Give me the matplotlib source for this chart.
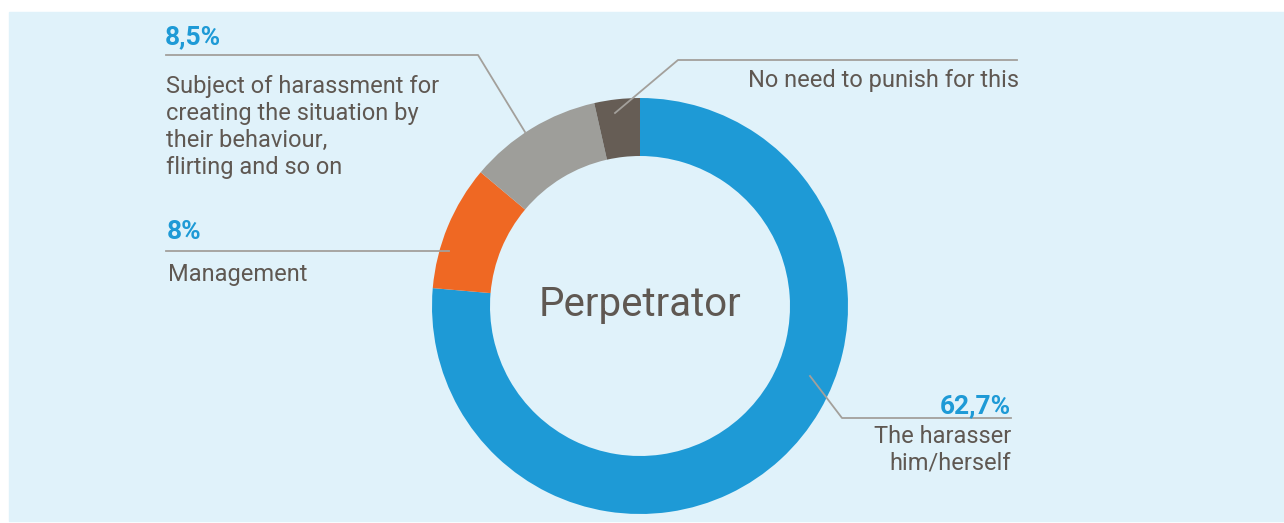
import matplotlib.pyplot as plt
from matplotlib.patches import Rectangle

plt.rcParams['font.family'] = ['Roboto', 'DejaVu Sans']

# shares of answers, clockwise from the top
labels = ["The harasser\nhim/herself", "Management",
          "Subject of harassment for\ncreating the situation by\ntheir behaviour,\nflirting and so on",
          "No need to punish for this"]
values = [62.7, 8.0, 8.5, 2.9]
pct_text = ["62,7%", "8%", "8,5%", ""]
colors = ["#1e9ad6", "#ef6823", "#9e9e9a", "#665d55"]

W, H = 1284, 523
text_col = "#5f5852"
line_col = "#a3a09b"
blue = "#1e9ad6"

fig = plt.figure(figsize=(W / 100, H / 100), dpi=100)
ax = fig.add_axes([0, 0, 1, 1])

# pixel-like coords, y measured from the top
def py(y):
    return H - y

ax.add_patch(Rectangle((9, py(521)), W - 9, 509, color="#e0f2fa", zorder=0))

cx, cy, r = 640, 306, 208
ax.pie(values, colors=colors, startangle=90, counterclock=False,
       center=(cx, py(cy)), radius=r, frame=True,
       wedgeprops=dict(width=58, linewidth=0))

ax.text(cx, py(305), "Perpetrator", ha="center", va="center",
        fontsize=29, color=text_col)

# leader lines
lw = 1.3
ax.plot([166, 478, 525], [py(55), py(55), py(132)], color=line_col, lw=lw)
ax.plot([166, 449], [py(251), py(251)], color=line_col, lw=lw)
ax.plot([1017, 678, 615], [py(60), py(60), py(113)], color=line_col, lw=lw)
ax.plot([1011, 842, 810], [py(418), py(418), py(376)], color=line_col, lw=lw)

# labels
pct_size, body_size = 19, 17
ax.text(165, py(37), pct_text[2], ha="left", va="center", fontsize=pct_size,
        fontweight="bold", color=blue)
ax.text(166, py(127), labels[2], ha="left", va="center", fontsize=body_size,
        color=text_col, linespacing=1.22)

ax.text(167, py(232), pct_text[1], ha="left", va="center", fontsize=pct_size,
        fontweight="bold", color=blue)
ax.text(168, py(275), labels[1], ha="left", va="center", fontsize=body_size,
        color=text_col)

ax.text(1019, py(81), labels[3], ha="right", va="center", fontsize=body_size,
        color=text_col)

ax.text(1011, py(406), pct_text[0], ha="right", va="center", fontsize=pct_size,
        fontweight="bold", color=blue)
ax.text(1011, py(450), labels[0], ha="right", va="center", fontsize=body_size,
        color=text_col, linespacing=1.22, multialignment="right")

ax.set_xlim(0, W)
ax.set_ylim(0, H)
ax.set_aspect("auto")
ax.axis("off")

fig.savefig("out.png", dpi=100, facecolor="white")
